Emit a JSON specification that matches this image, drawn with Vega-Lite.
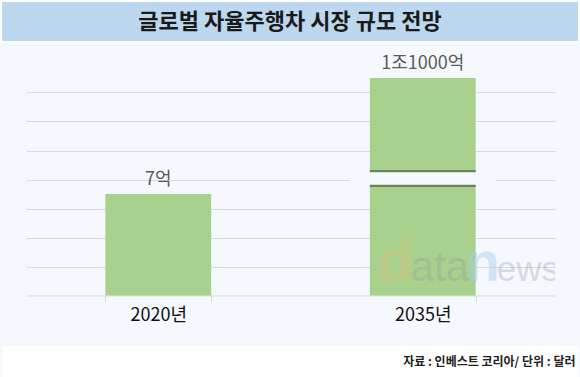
{
  "$schema": "https://vega.github.io/schema/vega-lite/v6.json",
  "background": "#f5f8fc",
  "padding": 0,
  "config": {"view": {"stroke": null}, "font": "Noto Sans CJK KR"},
  "spacing": 12,
  "center": true,
  "vconcat": [
    {
      "width": 578,
      "height": 41,
      "view": {"fill": "#bdd7ee", "stroke": "#ffffff", "strokeWidth": 2},
      "data": {"values": [{"title": "글로벌 자율주행차 시장 규모 전망"}]},
      "mark": {"type": "text", "font": "Noto Sans CJK KR", "fontSize": 22, "fontWeight": "bold", "color": "#1a1a1a", "align": "center", "baseline": "middle"},
      "encoding": {"text": {"field": "title"}}
    },
    {
      "spacing": 21,
      "center": true,
      "vconcat": [
        {
          "width": 529,
          "height": 217.5,
          "view": {"fill": "#f5f8fc", "stroke": null},
          "data": {"values": [
            {"year": "2020년", "value": 7, "label": "7억"},
            {"year": "2035년", "value": 11000, "label": "1조1000억"}
          ]},
          "encoding": {
            "x": {
              "field": "year", "type": "nominal", "sort": null,
              "scale": {"paddingInner": 0.6, "paddingOuter": 0.3},
              "axis": {
                "title": null, "labelAngle": 0, "labelFontSize": 18, "labelColor": "#111111",
                "labelFont": "Noto Sans CJK KR", "labelPadding": 5, "tickBand": "extent",
                "tickSize": 6, "tickColor": "#d9d9d9", "domainColor": "#d9d9d9", "grid": false
              }
            }
          },
          "layer": [
            {
              "mark": {"type": "bar", "color": "#a9d18e"},
              "encoding": {
                "y": {
                  "field": "value", "type": "quantitative",
                  "scale": {"domain": [0, 15], "clamp": true, "nice": false, "zero": true},
                  "axis": {"title": null, "grid": true, "values": [2, 4, 6, 8, 10, 12, 14], "tickCount": 20, "labels": false, "ticks": false, "domain": false, "gridColor": "#d9d9d9", "gridWidth": 1}
                }
              }
            },
            {
              "mark": {"type": "text", "fontSize": 18, "color": "#595959", "baseline": "alphabetic", "dy": -9, "font": "Noto Sans CJK KR"},
              "encoding": {
                "y": {"field": "value", "type": "quantitative"},
                "text": {"field": "label"}
              }
            },
            {
              "transform": [{"filter": "datum.year == '2035년'"}],
              "mark": {"type": "tick", "color": "#f5f8fc", "size": 146, "thickness": 12, "opacity": 1},
              "encoding": {"y": {"datum": 8.07}}
            },
            {
              "transform": [{"filter": "datum.year == '2035년'"}],
              "mark": {"type": "tick", "color": "#333333", "size": 106, "thickness": 1, "opacity": 1},
              "encoding": {"y": {"datum": 8.59}}
            },
            {
              "transform": [{"filter": "datum.year == '2035년'"}],
              "mark": {"type": "tick", "color": "#333333", "size": 106, "thickness": 1, "opacity": 1},
              "encoding": {"y": {"datum": 7.55}}
            },
            {
              "transform": [{"filter": "datum.year == '2035년'"}],
              "mark": {"type": "text", "text": "d", "font": "Liberation Sans", "fontWeight": "bold", "fontSize": 60, "align": "left", "baseline": "alphabetic", "dx": -46, "color": "#d8c27f", "opacity": 0.4},
              "encoding": {"y": {"datum": 0.966}}
            },
            {
              "transform": [{"filter": "datum.year == '2035년'"}],
              "mark": {"type": "text", "text": "ata", "font": "Liberation Sans", "fontSize": 42, "align": "left", "baseline": "alphabetic", "dx": -12, "color": "#8a9a9a", "opacity": 0.3},
              "encoding": {"y": {"datum": 0.966}}
            },
            {
              "transform": [{"filter": "datum.year == '2035년'"}],
              "mark": {"type": "text", "text": "n", "font": "Liberation Sans", "fontWeight": "bold", "fontSize": 56, "align": "left", "baseline": "alphabetic", "dx": 43, "color": "#9fcfee", "opacity": 0.45},
              "encoding": {"y": {"datum": 0.966}}
            },
            {
              "transform": [{"filter": "datum.year == '2035년'"}],
              "mark": {"type": "text", "text": "ews", "font": "Liberation Sans", "fontSize": 35, "align": "left", "baseline": "alphabetic", "dx": 74, "color": "#8a9aa0", "opacity": 0.3, "clip": true},
              "encoding": {"y": {"datum": 0.966}}
            }
          ]
        },
        {
          "width": 576,
          "height": 32,
          "view": {"fill": "#ffffff", "stroke": null},
          "data": {"values": [{"source": "자료 : 인베스트 코리아/ 단위 : 달러"}]},
          "mark": {"type": "text", "font": "Noto Sans CJK KR", "fontSize": 12, "fontWeight": "bold", "color": "#222222", "align": "right", "baseline": "middle", "dx": -3},
          "encoding": {"x": {"value": "width"}, "text": {"field": "source"}}
        }
      ]
    }
  ]
}
